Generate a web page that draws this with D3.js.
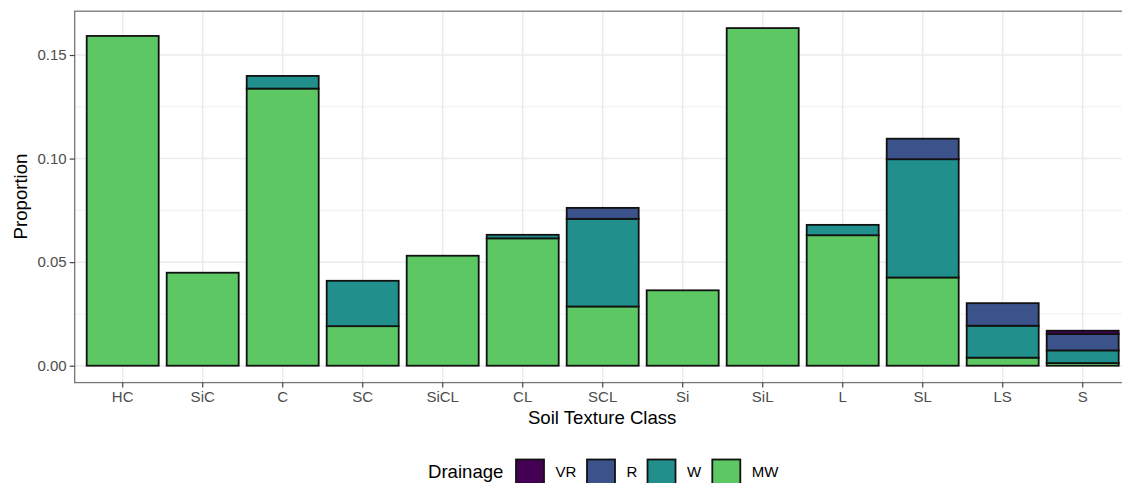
<!DOCTYPE html>
<html>
<head>
<meta charset="utf-8">
<script src="https://cdn.jsdelivr.net/npm/d3@7"></script>
<style>
  html, body { margin: 0; padding: 0; background: #fff; }
  svg { display: block; font-family: "Liberation Sans", Arial, sans-serif; }
</style>
</head>
<body>
<svg id="chart" width="1122" height="483"></svg>
<script>
// ---- data ----
const categories = ["HC", "SiC", "C", "SC", "SiCL", "CL", "SCL", "Si", "SiL", "L", "SL", "LS", "S"];
const drainageKeys = ["VR", "R", "W", "MW"];            // legend order
const stackOrder = ["MW", "W", "R", "VR"];              // bottom to top
const valuesMW = [0.1592, 0.0449, 0.1338, 0.0191, 0.0531, 0.0615, 0.0286, 0.0364, 0.1630, 0.0630, 0.0426, 0.0039, 0.0013];
const valuesW  = [0,      0,      0.0061, 0.0219, 0,      0.0017, 0.0423, 0,      0,      0.0050, 0.0571, 0.0154, 0.0061];
const valuesR  = [0,      0,      0,      0,      0,      0,      0.0053, 0,      0,      0,      0.0099, 0.0109, 0.0079];
const valuesVR = [0,      0,      0,      0,      0,      0,      0,      0,      0,      0,      0,      0,      0.0016];
const yTicks = [0, 0.05, 0.10, 0.15];
const yMinorTicks = [0.025, 0.075, 0.125];
const colors = { VR: "#440154", R: "#3B528B", W: "#21908C", MW: "#5DC863" };

const rows = categories.map((c, i) => ({ cat: c, MW: valuesMW[i], W: valuesW[i], R: valuesR[i], VR: valuesVR[i] }));

// ---- layout ----
const svg = d3.select("#chart");
const panel = { left: 74.7, right: 1130.7, top: 11.2, bottom: 382.6 };

const x = d3.scaleBand().domain(categories)
  .range([panel.left, panel.right]).paddingInner(0.1).paddingOuter(0.15);

const maxTotal = d3.max(rows, d => stackOrder.reduce((s, k) => s + d[k], 0));
const y = d3.scaleLinear().domain([-maxTotal * 0.05, maxTotal * 1.05])
  .range([panel.bottom, panel.top]);

// panel background + grid
const g = svg.append("g");
g.selectAll("line.minor").data(yMinorTicks).join("line")
  .attr("x1", panel.left).attr("x2", panel.right)
  .attr("y1", d => y(d)).attr("y2", d => y(d))
  .attr("stroke", "#F0F0F0").attr("stroke-width", 1);
g.selectAll("line.majorY").data(yTicks).join("line")
  .attr("x1", panel.left).attr("x2", panel.right)
  .attr("y1", d => y(d)).attr("y2", d => y(d))
  .attr("stroke", "#EBEBEB").attr("stroke-width", 1.5);
g.selectAll("line.majorX").data(categories).join("line")
  .attr("x1", d => x(d) + x.bandwidth() / 2).attr("x2", d => x(d) + x.bandwidth() / 2)
  .attr("y1", panel.top).attr("y2", panel.bottom)
  .attr("stroke", "#EBEBEB").attr("stroke-width", 1.5);

// stacked bars
const series = d3.stack().keys(stackOrder)(rows);
const segs = [];
series.forEach(s => s.forEach(d => {
  if (d[1] - d[0] > 0) segs.push({ key: s.key, cat: d.data.cat, y0: d[0], y1: d[1] });
}));
svg.append("g").selectAll("rect").data(segs).join("rect")
  .attr("x", d => x(d.cat))
  .attr("width", x.bandwidth())
  .attr("y", d => y(d.y1))
  .attr("height", d => y(d.y0) - y(d.y1))
  .attr("fill", d => colors[d.key])
  .attr("stroke", "#111")
  .attr("stroke-width", 1.8);

// panel border
svg.append("rect")
  .attr("x", panel.left).attr("y", panel.top)
  .attr("width", panel.right - panel.left).attr("height", panel.bottom - panel.top)
  .attr("fill", "none").attr("stroke", "#777").attr("stroke-width", 1.3);

// axes
const yAxis = svg.append("g").attr("transform", `translate(${panel.left},0)`)
  .call(d3.axisLeft(y).tickValues(yTicks).tickFormat(d3.format(".2f")).tickSize(5).tickPadding(3));
const xAxis = svg.append("g").attr("transform", `translate(0,${panel.bottom})`)
  .call(d3.axisBottom(x).tickSize(5).tickPadding(4));
[yAxis, xAxis].forEach(a => {
  a.select(".domain").remove();
  a.selectAll(".tick line").attr("stroke", "#444").attr("stroke-width", 1.2);
  a.selectAll(".tick text").attr("fill", "#4D4D4D").style("font-size", "15px")
    .style("font-family", "'Liberation Sans', Arial, sans-serif");
});

// axis titles
svg.append("text").attr("x", (panel.left + 1130.7) / 2 - 0.5).attr("y", 424.3)
  .attr("text-anchor", "middle").style("font-size", "18.6px").attr("fill", "#000")
  .text("Soil Texture Class");
svg.append("text").attr("transform", "translate(27,196.5) rotate(-90)")
  .attr("text-anchor", "middle").style("font-size", "18.6px").attr("fill", "#000")
  .text("Proportion");

// legend
const leg = svg.append("g");
leg.append("text").attr("x", 428).attr("y", 478.3).style("font-size", "18.6px").attr("fill", "#000").text("Drainage");
const legX = [516, 587, 647.5, 712.3];
drainageKeys.forEach((k, i) => {
  leg.append("rect").attr("x", legX[i]).attr("y", 459.5).attr("width", 28).attr("height", 28)
    .attr("fill", colors[k]).attr("stroke", "#111").attr("stroke-width", 1.8);
  leg.append("text").attr("x", legX[i] + 39.5).attr("y", 477.3)
    .style("font-size", "15px").attr("fill", "#000").text(k);
});
</script>
</body>
</html>
